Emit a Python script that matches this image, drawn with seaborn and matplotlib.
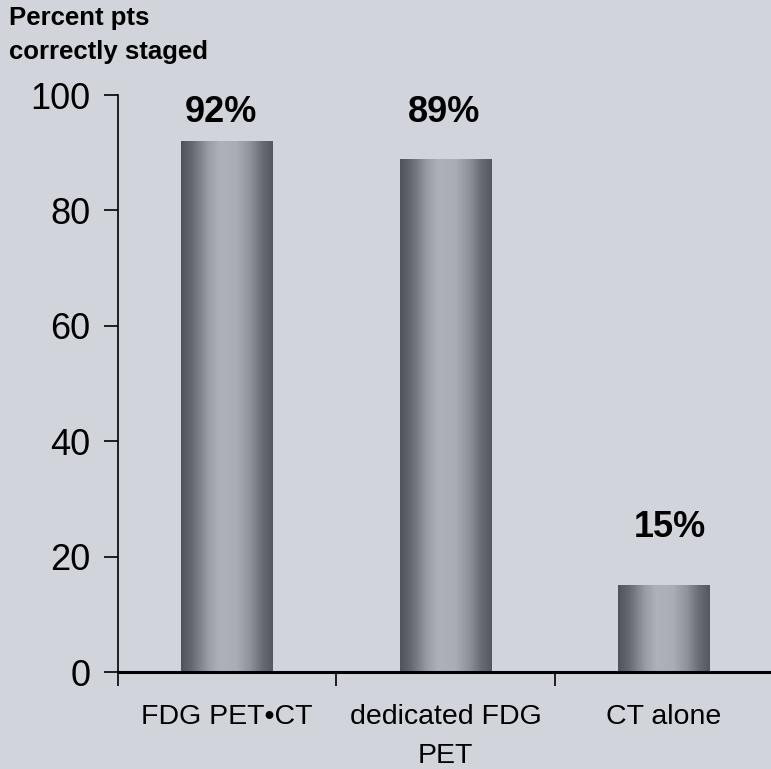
import numpy as np
import pandas as pd
import seaborn as sns
import matplotlib.pyplot as plt
from matplotlib.colors import LinearSegmentedColormap

categories = ["FDG PET\u2022CT", "dedicated FDG\nPET", "CT alone"]
percent_staged = [92, 89, 15]
bar_labels = ["92%", "89%", "15%"]
y_ticks = [0, 20, 40, 60, 80, 100]

bg = "#D1D4DB"
sns.set_theme(style="ticks")
plt.rcParams["font.family"] = ["Liberation Sans", "DejaVu Sans"]

df = pd.DataFrame({"method": categories, "pct": percent_staged})

fig = plt.figure(figsize=(7.71, 7.69), dpi=100, facecolor=bg)
ax = fig.add_axes([0.153, 0.1261, 0.8495, 0.7503])
ax.set_facecolor(bg)

sns.barplot(data=df, x="method", y="pct", width=0.42, color="#8E9199", ax=ax)

# metallic gradient fill inside each bar
grad = LinearSegmentedColormap.from_list("metal", [
    (0.0, "#505359"), (0.12, "#666970"), (0.3, "#9A9DA5"), (0.42, "#AEB1BA"),
    (0.6, "#AAADB6"), (0.75, "#90939B"), (0.88, "#6A6D74"), (1.0, "#54575D")])
row = np.linspace(0, 1, 256).reshape(1, -1)
for p in ax.patches:
    x0, w, h = p.get_x(), p.get_width(), p.get_height()
    p.set_facecolor("none")
    p.set_edgecolor("none")
    im = ax.imshow(row, cmap=grad, aspect="auto", extent=[x0, x0 + w, 0, h],
                   zorder=p.get_zorder(), interpolation="bicubic")
    im.set_clip_path(p)

ax.set_xlim(-0.5, 2.5)
ax.set_ylim(0, 100)
ax.set_yticks(y_ticks)
ax.tick_params(axis="y", labelsize=26, length=10, width=1.2, direction="out", colors="black", pad=10)
ax.set_xticks([-0.5, 0.5, 1.5, 2.5], minor=True)
ax.tick_params(axis="x", which="major", length=0, labelsize=20.5, pad=23, colors="black")
ax.tick_params(axis="x", which="minor", length=10, width=1.2, direction="out", color="black")
for lbl in ax.get_xticklabels():
    lbl.set_linespacing(1.65)

for s in ["top", "right"]:
    ax.spines[s].set_visible(False)
ax.spines["left"].set_linewidth(1.2)
ax.spines["bottom"].set_linewidth(2.2)
ax.spines["left"].set_color("black")
ax.spines["bottom"].set_color("black")
ax.set_xlabel("")
ax.set_ylabel("")

label_offsets = [5, 8, 10]
label_shift = [-0.028, -0.007, 0.027]
for i, (v, t) in enumerate(zip(percent_staged, bar_labels)):
    ax.text(i + label_shift[i], v + label_offsets[i], t, ha="center", va="center",
            fontsize=26, fontweight="bold", color="black")

fig.text(0.012, 0.992, "Percent pts\ncorrectly staged", ha="left", va="top",
         fontsize=18.5, fontweight="bold", color="black", linespacing=1.5)

fig.savefig("out.png", dpi=100, facecolor=bg)
